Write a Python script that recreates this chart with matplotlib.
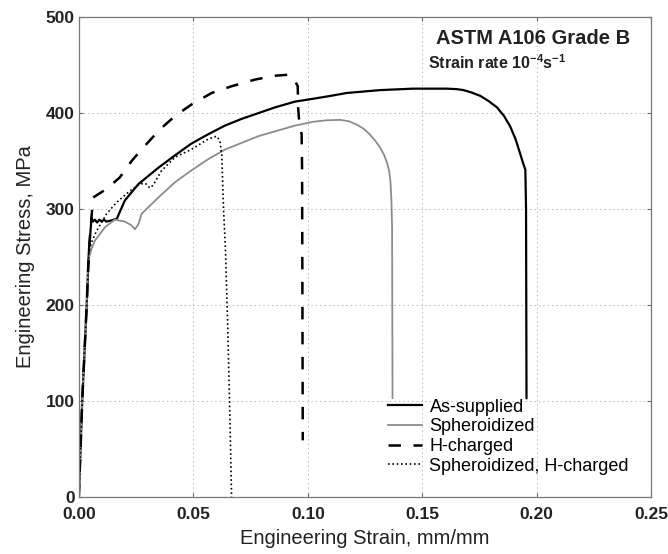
import matplotlib
matplotlib.use("Agg")
import matplotlib.pyplot as plt

plt.rcParams['font.family'] = ['Liberation Sans', 'DejaVu Sans']
plt.rcParams['mathtext.fontset'] = 'custom'
plt.rcParams['mathtext.rm'] = 'Liberation Sans'
plt.rcParams['mathtext.bf'] = 'Liberation Sans:bold'

# stress-strain curves, strain in mm/mm, stress in MPa
as_strain = [0, 0.0015, 0.0034, 0.0044, 0.0052, 0.0055, 0.0062, 0.007, 0.008, 0.009,
             0.010, 0.011, 0.012, 0.014, 0.0166, 0.0201, 0.026, 0.0347, 0.042, 0.049,
             0.0565, 0.0638, 0.0711, 0.0784, 0.0857, 0.0944, 0.1024, 0.110, 0.117,
             0.1316, 0.146, 0.1607, 0.165, 0.168, 0.1715, 0.1753, 0.179, 0.1826,
             0.1857, 0.1884, 0.1907, 0.1927, 0.194, 0.195, 0.1953, 0.1955]
as_stress = [0, 101, 198, 257, 280, 291, 287, 289, 286, 289,
             287, 289, 287, 288, 290, 309, 326, 343, 356, 368,
             378, 387, 394, 400, 406, 412, 415, 418, 421,
             424, 425.5, 425.5, 425, 424, 421.5, 418, 412.5, 406,
             397, 386, 373, 358, 348, 341, 300, 103]

sp_strain = [0, 0.0015, 0.0034, 0.0041, 0.0055, 0.007, 0.0114, 0.0157, 0.0201, 0.023,
             0.0245, 0.026, 0.0274, 0.0347, 0.042, 0.049, 0.0565, 0.0638, 0.0711,
             0.0784, 0.0857, 0.0944, 0.1024, 0.108, 0.114, 0.118, 0.1214, 0.1245,
             0.127, 0.1295, 0.1316, 0.1332, 0.1345, 0.1355, 0.1361, 0.1365, 0.1368,
             0.137]
sp_stress = [0, 101, 198, 246, 258, 267, 281, 289, 287, 283,
             279, 284, 295, 312, 328, 340, 352, 362, 369,
             376, 381, 387, 391, 392.5, 393, 391.5, 388, 383.5,
             378, 371, 364, 357, 349, 340, 328, 310, 280,
             103]

h_strain = [0, 0.0015, 0.0034, 0.0044, 0.0055, 0.0062, 0.0121, 0.0179, 0.0230, 0.0281,
            0.0354, 0.042, 0.0492, 0.058, 0.0667, 0.077, 0.0857, 0.0915, 0.0937,
            0.0956, 0.0958, 0.0962, 0.0973, 0.0975, 0.0978]
h_stress = [0, 101, 198, 257, 290, 312, 321, 333, 350, 364,
            383, 397, 409, 421, 428, 435, 439, 440, 437,
            428, 405, 392, 378, 340, 59]

sh_strain = [0, 0.0015, 0.0034, 0.0044, 0.0055, 0.0077, 0.0121, 0.0165, 0.0223, 0.0267,
             0.029, 0.031, 0.0325, 0.0361, 0.042, 0.049, 0.0565, 0.0602, 0.0616,
             0.0624, 0.0632, 0.0640, 0.0650, 0.0660, 0.0667]
sh_stress = [0, 101, 198, 255, 265, 277, 295, 307, 319, 326,
             327, 322, 325, 340, 354, 362, 373, 376, 371,
             357, 300, 260, 180, 80, 0]

labels = ['As-supplied', 'Spheroidized', 'H-charged', 'Spheroidized, H-charged']
xticks = [0.00, 0.05, 0.10, 0.15, 0.20, 0.25]
yticks = [0, 100, 200, 300, 400, 500]

fig = plt.figure(figsize=(6.68, 5.54), dpi=100)
ax = fig.add_axes([0.118, 0.103, 0.857, 0.866])

ax.plot(as_strain, as_stress, color='black', lw=1.6, label=labels[0])
ax.plot(sp_strain, sp_stress, color='#8c8c8c', lw=1.3, label=labels[1])
ax.plot(h_strain, h_stress, color='black', lw=1.8, linestyle=(0, (5, 5)), label=labels[2])
ax.plot(sh_strain, sh_stress, color='black', lw=1.2, linestyle=(0, (1, 1.6)), label=labels[3])

ax.set_xlim(0, 0.25)
ax.set_ylim(0, 500)
ax.set_xticks(xticks)
ax.set_xticklabels(['%.2f' % t for t in xticks], fontweight='bold')
ax.set_yticks(yticks)
ax.set_yticklabels([str(t) for t in yticks], fontweight='bold')
ax.tick_params(direction='in', length=3, labelsize=12.5, top=True, right=True,
               color='#666666', labelcolor='#222222')
ax.tick_params(axis='x', pad=7)
ax.tick_params(axis='y', pad=3)
ax.grid(True, linestyle=(0, (1.5, 3)), color='#bbbbbb', lw=0.7)
for s in ax.spines.values():
    s.set_color('#777777')
    s.set_linewidth(0.9)

ax.set_xlabel('Engineering Strain, mm/mm', fontsize=14.5, color='#222222', labelpad=5)
ax.set_ylabel('Engineering Stress, MPa', fontsize=14.5, color='#222222', labelpad=8)

ax.text(0.963, 0.956, 'ASTM A106 Grade B', transform=ax.transAxes, ha='right',
        va='center', fontsize=14.5, fontweight='bold', color='#222222')
ax.text(0.61, 0.905, r'Strain rate 10$^{\mathbf{-4}}$s$^{\mathbf{-1}}$',
        transform=ax.transAxes, ha='left', va='center', fontsize=11.5,
        fontweight='bold', color='#222222')

ax.legend(loc='upper left', bbox_to_anchor=(0.54, 0.205), frameon=False,
          fontsize=13, handlelength=1.9, handletextpad=0.4, labelspacing=0.15,
          borderpad=0, borderaxespad=0)

fig.savefig('out.png', dpi=100)
